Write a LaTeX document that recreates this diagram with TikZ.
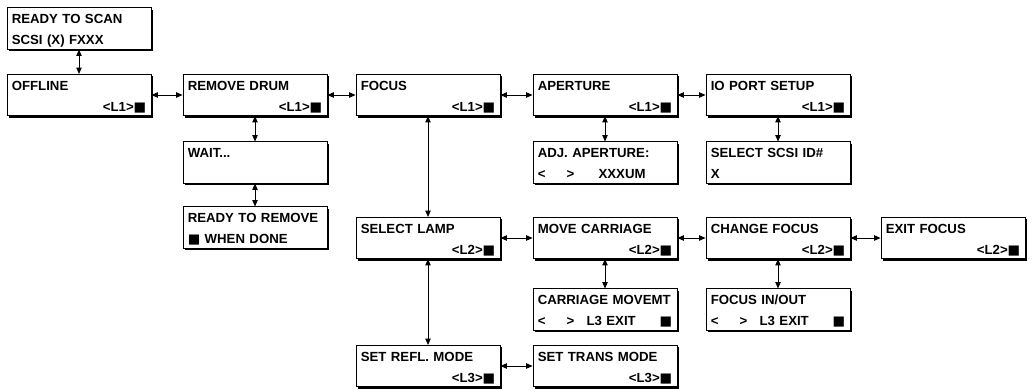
\documentclass[tikz,border=0pt]{standalone}
\usepackage{fontspec}
\setmainfont{Liberation Sans}
\newfontfamily\squarefont{DejaVu Sans}
\usepackage{tikz}
\usetikzlibrary{arrows.meta,shadows}
\newcommand{\blk}{{\squarefont ■}}

\begin{document}
\begin{tikzpicture}[
  x=0.025cm, y=-0.025cm,
  screen/.style={rectangle, draw=black, fill=white, line width=0.6pt,
                 inner xsep=0.12cm, inner ysep=0pt,
                 text width=3.36cm, align=left,
                 text height=0.4cm, text depth=0.63cm,
                 font=\fontsize{9.4}{14.9}\selectfont\bfseries,
                 drop shadow={shadow xshift=0.05cm, shadow yshift=-0.05cm,
                              fill=black, opacity=1}},
  link/.style={{Triangle[length=4.5pt,width=3.8pt]}-{Triangle[length=4.5pt,width=3.8pt]},
               line width=0.6pt},
]
  \useasboundingbox (0,0) rectangle (1032,389);

  % left column and the drum branch
  \node[screen] (rdy)  at (79,28.5)   {READY TO SCAN\\SCSI (X) FXXX};
  \node[screen] (off)  at (79,95)     {OFFLINE\\\hfill<L1>\blk};
  \node[screen] (rmv)  at (255,95)    {REMOVE DRUM\\\hfill<L1>\blk};
  \node[screen] (wait) at (255,162.5) {WAIT...};
  \node[screen] (rtr)  at (255,227.5) {READY TO REMOVE\\\blk{} WHEN DONE};

  % top row
  \node[screen] (foc)  at (428,95)    {FOCUS\\\hfill<L1>\blk};
  \node[screen] (apt)  at (605,95)    {APERTURE\\\hfill<L1>\blk};
  \node[screen] (iop)  at (778,95)    {IO PORT SETUP\\\hfill<L1>\blk};
  \node[screen] (adj)  at (605,162.5) {ADJ. APERTURE:\\\makebox[0.72cm][l]{<}\makebox[0.8cm][l]{>}XXXUM};
  \node[screen] (scsi) at (778,162.5) {SELECT SCSI ID\#\\X};

  % focus menu
  \node[screen] (lamp) at (428,238)   {SELECT LAMP\\\hfill<L2>\blk};
  \node[screen] (mov)  at (605,238)   {MOVE CARRIAGE\\\hfill<L2>\blk};
  \node[screen] (chg)  at (778,238)   {CHANGE FOCUS\\\hfill<L2>\blk};
  \node[screen] (exf)  at (953,238)   {EXIT FOCUS\\\hfill<L2>\blk};
  \node[screen] (cmv)  at (605,309.5) {CARRIAGE MOVEMT\\\makebox[0.72cm][l]{<}\makebox[0.5cm][l]{>}L3 EXIT\hfill\blk};
  \node[screen] (fio)  at (778,309.5) {FOCUS IN/OUT\\\makebox[0.72cm][l]{<}\makebox[0.5cm][l]{>}L3 EXIT\hfill\blk};
  \node[screen] (refl) at (428,366)   {SET REFL. MODE\\\hfill<L3>\blk};
  \node[screen] (trns) at (605,366)   {SET TRANS MODE\\\hfill<L3>\blk};

  % links
  \draw[link] (rdy) -- (off);
  \draw[link] (off) -- (rmv);
  \draw[link] (rmv) -- (foc);
  \draw[link] (foc) -- (apt);
  \draw[link] (apt) -- (iop);
  \draw[link] (rmv) -- (wait);
  \draw[link] (wait) -- (rtr);
  \draw[link] (apt) -- (adj);
  \draw[link] (iop) -- (scsi);
  \draw[link] (foc) -- (lamp);
  \draw[link] (lamp) -- (mov);
  \draw[link] (mov) -- (chg);
  \draw[link] (chg) -- (exf);
  \draw[link] (mov) -- (cmv);
  \draw[link] (chg) -- (fio);
  \draw[link] (lamp) -- (refl);
  \draw[link] (refl) -- (trns);
\end{tikzpicture}
\end{document}
